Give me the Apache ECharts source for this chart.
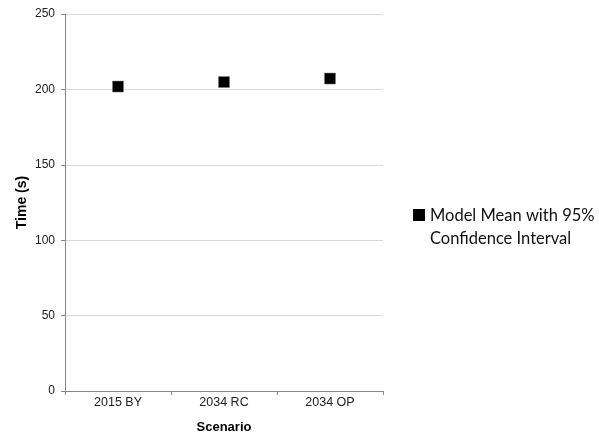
<!DOCTYPE html>
<html><head><meta charset="utf-8">
<script src="https://cdn.jsdelivr.net/npm/echarts@6/dist/echarts.min.js"></script>
<style>html,body{margin:0;padding:0;background:#fff}#c{width:599px;height:436px}</style>
</head><body><div id="c"></div>
<script>
const categories = ['2015 BY', '2034 RC', '2034 OP'];
const meanValues = [201.9, 204.9, 207.2];
const yTicks = [0, 50, 100, 150, 200, 250];
const seriesName = 'Model Mean with 95%\nConfidence Interval';

const chart = echarts.init(document.getElementById('c'));
chart.setOption({
  animation: false,
  backgroundColor: '#fff',
  grid: { left: 65, right: 216, top: 14, bottom: 45, containLabel: false, outerBoundsMode: 'none' },
  xAxis: {
    type: 'category', data: categories,
    name: 'Scenario', nameLocation: 'middle', nameGap: 30, nameMoveOverlap: false,
    nameTextStyle: { fontFamily: 'Liberation Sans', fontSize: 13, fontWeight: 'bold', color: '#000' },
    axisLine: { lineStyle: { color: '#888', width: 1 } },
    axisTick: { show: true, length: 4, lineStyle: { color: '#888' } },
    axisLabel: { fontFamily: 'Liberation Sans', fontSize: 12.5, color: '#222', margin: 5 },
    splitLine: { show: false }
  },
  yAxis: {
    type: 'value', min: yTicks[0], max: yTicks[yTicks.length - 1], interval: 50,
    name: 'Time (s)', nameLocation: 'middle', nameGap: 36, nameRotate: 90, nameMoveOverlap: false,
    nameTextStyle: { fontFamily: 'Liberation Sans', fontSize: 14, fontWeight: 'bold', color: '#000' },
    axisLine: { show: true, lineStyle: { color: '#888', width: 1 } },
    axisTick: { show: true, length: 4, lineStyle: { color: '#888' } },
    axisLabel: { fontFamily: 'Liberation Sans', fontSize: 12, color: '#222', margin: 10 },
    splitLine: { lineStyle: { color: '#d9d9d9', width: 1 } }
  },
  legend: {
    orient: 'vertical', left: 408, top: 199,
    itemWidth: 12, itemHeight: 36, itemGap: 0,
    icon: 'path://M0,0L12,0L12,12L0,12Z M0,36L0.01,36',
    textStyle: { fontFamily: 'Lato', fontSize: 16.5, color: '#111', lineHeight: 23 },
    data: [{ name: seriesName, itemStyle: { color: '#000', borderWidth: 0, opacity: 1 } }]
  },
  series: [{
    name: seriesName, type: 'scatter', data: meanValues,
    symbol: 'rect', symbolSize: 11,
    itemStyle: { color: '#000', borderColor: '#777', borderWidth: 0.5, opacity: 1 }
  }]
});
</script></body></html>
